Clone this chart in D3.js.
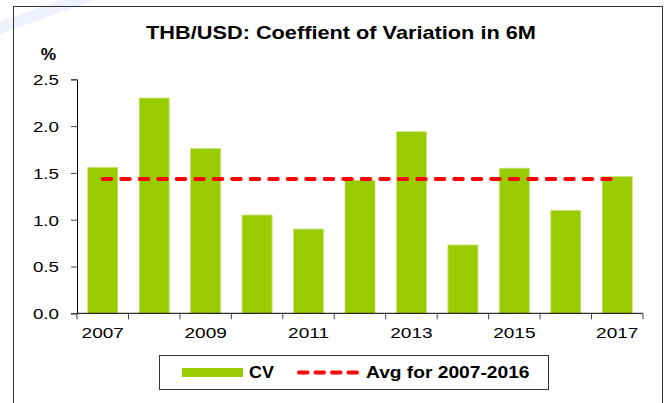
<!DOCTYPE html>
<html>
<head>
<meta charset="utf-8">
<script src="https://cdn.jsdelivr.net/npm/d3@7"></script>
<style>
  html, body { margin: 0; padding: 0; background: #fff; }
  svg { display: block; font-family: "Liberation Sans", Arial, sans-serif; }
</style>
</head>
<body>
<svg id="chart" width="669" height="403"></svg>
<script>
// ---- data ----
const years = ["2007","2008","2009","2010","2011","2012","2013","2014","2015","2016","2017"];
const cvValues = [1.56, 2.30, 1.76, 1.05, 0.90, 1.42, 1.94, 0.73, 1.55, 1.10, 1.46];
const avgValue = 1.435;
const yTicks = [0, 0.5, 1.0, 1.5, 2.0, 2.5];
const xTickLabels = ["2007","2009","2011","2013","2015","2017"];
const titleText = "THB/USD: Coeffient of Variation in 6M";
const seriesNames = ["CV", "Avg for 2007-2016"];

const svg = d3.select("#chart");

// helper: horizontally stretched text (the reference is slightly stretched)
function stext(g, x, y, txt, size, sx, anchor, weight) {
  return g.append("text")
    .attr("transform", `translate(${x},${y}) scale(${sx},1)`)
    .attr("text-anchor", anchor || "start")
    .attr("font-size", size)
    .attr("font-weight", weight || "normal")
    .attr("fill", "#000")
    .text(txt);
}

// faint background watermark
svg.append("path")
  .attr("d", "M0,34 L0,22 L60,0 L95,0 Z")
  .attr("fill", "#eef0fa");

// outer frame
svg.append("rect")
  .attr("x", 13.5).attr("y", 6.5)
  .attr("width", 649).attr("height", 420)
  .attr("fill", "none").attr("stroke", "#333").attr("stroke-width", 1);

const x = d3.scaleBand().domain(years).range([77, 643]).paddingInner(0.417).paddingOuter(0.2085);
const y = d3.scaleLinear().domain([0, 2.5]).range([313.3, 79.3]);

// title and unit
stext(svg, 341, 38.5, titleText, 18.5, 1.175, "middle", "bold");
stext(svg, 48.3, 60, "%", 16, 1.08, "middle", "bold");

// bars
svg.append("g").selectAll("rect")
  .data(years)
  .join("rect")
  .attr("x", d => x(d))
  .attr("y", (d, i) => y(cvValues[i]))
  .attr("width", x.bandwidth())
  .attr("height", (d, i) => y(0) - y(cvValues[i]))
  .attr("fill", "#99cc00")
  .attr("stroke", "#c6e27a").attr("stroke-width", 0.8);

// y axis
const sxTick = 1.25;
const yAxis = svg.append("g")
  .attr("transform", `translate(${x.range()[0]},0)`)
  .call(d3.axisLeft(y).tickValues(yTicks).tickFormat(d3.format(".1f")).tickSize(6).tickPadding(12));
yAxis.select(".domain").attr("stroke", "#000");
yAxis.selectAll(".tick line").attr("stroke", "#444");
yAxis.selectAll(".tick text")
  .attr("font-size", 15)
  .attr("font-family", "Liberation Sans, Arial, sans-serif")
  .attr("fill", "#000")
  .attr("x", null).attr("dy", null)
  .attr("transform", `translate(-18,5.3) scale(${sxTick},1)`);

// x axis
const step = x.step();
const x0 = x.range()[0];
const xg = svg.append("g").attr("transform", `translate(0,${y(0)})`);
xg.append("line")
  .attr("x1", x.range()[0]).attr("x2", x.range()[1])
  .attr("stroke", "#000");
xg.selectAll("line.tk")
  .data(d3.range(years.length + 1))
  .join("line").attr("class", "tk")
  .attr("x1", i => x0 + i * step).attr("x2", i => x0 + i * step)
  .attr("y1", 0).attr("y2", 6)
  .attr("stroke", "#444");
xTickLabels.forEach(d => {
  stext(xg, x(d) + x.bandwidth() / 2, 24.3, d, 15, 1.27, "middle");
});

// average dashed line
svg.append("line")
  .attr("x1", x(years[0]) + x.bandwidth() / 2)
  .attr("x2", x(years[years.length - 1]) + x.bandwidth() / 2)
  .attr("y1", y(avgValue)).attr("y2", y(avgValue))
  .attr("stroke", "#ff0000").attr("stroke-width", 4)
  .attr("stroke-dasharray", "8.5,10").attr("stroke-linecap", "round");

// legend
const lg = svg.append("g");
lg.append("rect")
  .attr("x", 159.5).attr("y", 355.5).attr("width", 389).attr("height", 34)
  .attr("fill", "#fff").attr("stroke", "#333");
lg.append("rect")
  .attr("x", 182).attr("y", 368).attr("width", 61).attr("height", 9)
  .attr("fill", "#99cc00");
stext(lg, 249, 378.3, seriesNames[0], 16, 1.12, "start", "bold");
lg.append("line")
  .attr("x1", 299).attr("x2", 360).attr("y1", 372.5).attr("y2", 372.5)
  .attr("stroke", "#ff0000").attr("stroke-width", 4)
  .attr("stroke-dasharray", "8.5,8").attr("stroke-linecap", "round");
stext(lg, 366, 378.3, seriesNames[1], 16, 1.2, "start", "bold");
</script>
</body>
</html>
